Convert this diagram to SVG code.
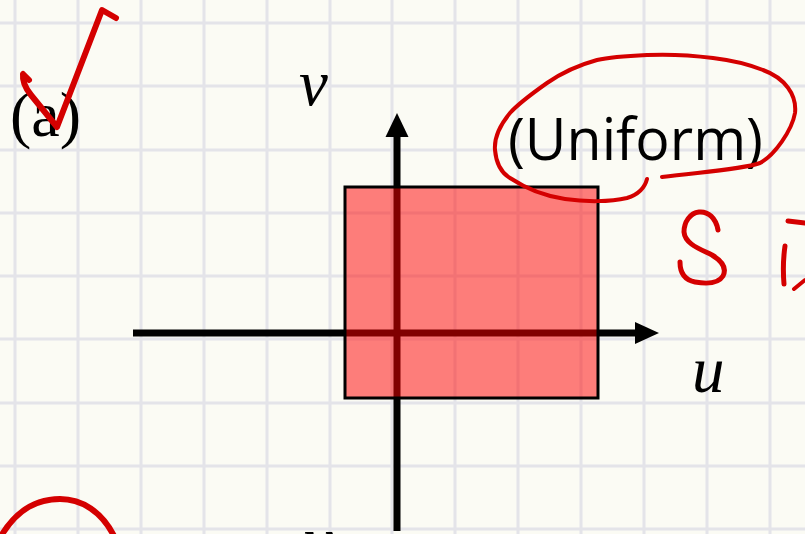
<svg xmlns="http://www.w3.org/2000/svg" width="805" height="534" viewBox="0 0 805 534">
<style>
.grid line{stroke:#e4e4e9;stroke-width:3}
.axis{stroke:#000;stroke-width:7;fill:none}
.head{fill:#000}
.ink{fill:none;stroke:#d40000;stroke-linecap:round;stroke-linejoin:round}
.lbl{font-family:"Liberation Serif",serif;font-style:italic;font-size:65px;fill:#000}
</style>
<rect width="805" height="534" fill="#fbfbf4"/>
<g class="grid">
<line x1="15" y1="0" x2="15" y2="534"/><line x1="78" y1="0" x2="78" y2="534"/><line x1="141" y1="0" x2="141" y2="534"/><line x1="204" y1="0" x2="204" y2="534"/><line x1="267" y1="0" x2="267" y2="534"/><line x1="330" y1="0" x2="330" y2="534"/><line x1="392" y1="0" x2="392" y2="534"/><line x1="455" y1="0" x2="455" y2="534"/><line x1="518" y1="0" x2="518" y2="534"/><line x1="581" y1="0" x2="581" y2="534"/><line x1="644" y1="0" x2="644" y2="534"/><line x1="707" y1="0" x2="707" y2="534"/><line x1="770" y1="0" x2="770" y2="534"/>
<line x1="0" y1="23" x2="805" y2="23"/><line x1="0" y1="86" x2="805" y2="86"/><line x1="0" y1="150" x2="805" y2="150"/><line x1="0" y1="213" x2="805" y2="213"/><line x1="0" y1="276" x2="805" y2="276"/><line x1="0" y1="339" x2="805" y2="339"/><line x1="0" y1="403" x2="805" y2="403"/><line x1="0" y1="466" x2="805" y2="466"/><line x1="0" y1="529" x2="805" y2="529"/>
</g>
<g id="connectors">
<line class="axis" x1="133" y1="333" x2="637" y2="333"/>
<polygon class="head" points="635,322 659,333 635,344"/>
<line class="axis" x1="397" y1="531" x2="397" y2="135"/>
<polygon class="head" points="385.5,137 397,113 408.5,137"/>
</g>
<g id="region">
<rect x="345" y="187" width="253" height="211" fill="#ff0000" fill-opacity="0.5" stroke="#000" stroke-width="3"/>
</g>
<g id="labels">
<text x="10" y="136" font-family="Liberation Serif, serif" font-size="64">(a)</text>
<text class="lbl" x="299" y="105">v</text>
<text class="lbl" x="692" y="392">u</text>
<text class="lbl" x="304" y="562">v</text>
<text x="508" y="160" font-family="Open Sans, sans-serif" font-size="58" textLength="255" lengthAdjust="spacingAndGlyphs">(Uniform)</text>
</g>
<g id="annotations">
<path class="ink" stroke-width="6" d="M29 80 L23 74 Q22 84 31 95 L57 127 L102 10 L116 18"/>
<path class="ink" stroke-width="4" d="M662 177 C 700 172, 740 170, 760 163 C 775 155, 792 130, 795 113 C 797 95, 785 78, 763 70 C 745 63, 730 60, 713 58 C 690 55, 670 54, 647 55 C 625 56, 610 57, 597 60 C 575 66, 560 74, 547 83 C 530 95, 518 104, 510 113 C 500 125, 494 138, 495 150 C 496 162, 500 172, 510 178 C 525 188, 545 196, 565 199 C 585 202, 610 202, 627 198 C 640 194, 645 187, 647 179"/>
<path class="ink" stroke-width="5" d="M718 230 C 716 218, 708 211, 699 212 C 690 213, 684 222, 684 232 C 685 244, 700 249, 712 255 C 722 261, 727 268, 723 276 C 718 284, 706 284, 695 282 C 685 280, 680 273, 680 262"/>
<path class="ink" stroke-width="5" d="M788 221 L805 223"/>
<path class="ink" stroke-width="5" d="M785 246 C 783 260, 783 272, 784 284"/>
<path class="ink" stroke-width="4" d="M794 289 L805 280"/>
<path class="ink" stroke-width="6" d="M1 536 C 18 508, 38 499, 60 499 C 82 499, 102 512, 114 536"/>
</g>
</svg>
